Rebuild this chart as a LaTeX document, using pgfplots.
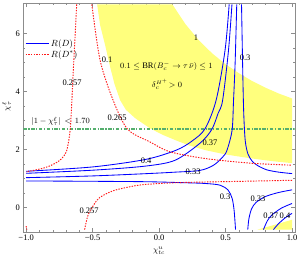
\documentclass[border=0pt]{standalone}
\usepackage{fontspec}
\setmainfont{Liberation Serif}
\usepackage{pgfplots}
\pgfplotsset{compat=1.18}
\usetikzlibrary{calc}
\pgfplotsset{
 bl/.style={color={rgb,255:red,0;green,0;blue,255}, line width=0.85bp, smooth, tension=0.5},
 rd/.style={color={rgb,255:red,255;green,25;blue,25}, line width=0.95bp, dash pattern=on 1.4bp off 1.3bp, smooth, tension=0.5},
}
\begin{document}
\begin{tikzpicture}
\begin{axis}[
 scale only axis, width=271.2bp, height=229.5bp,
 xmin=-1.02, xmax=1.02, ymin=-0.86, ymax=7.05,
 xtick={-1,-0.5,0,0.5,1}, xticklabels={−1.0,−0.5,0.0,0.5,1.0},
 ytick={0,2,4,6}, yticklabels={0,2,4,6},
 minor x tick num=4, minor y tick num=3,
 tick align=inside, tick pos=both,
 major tick length=4bp, minor tick length=2bp,
 axis line style={color={rgb,255:red,140;green,140;blue,140}},
 every tick/.style={color={rgb,255:red,140;green,140;blue,140}, line width=0.4pt},
 tick label style={font=\fontsize{8.5}{10}\selectfont, black},
 xticklabel style={yshift=1.5bp},
 xlabel={$\chi^{u}_{tc}$}, ylabel={$\chi^{\ell}_{\tau}$},
 label style={font=\fontsize{8.5}{10}\selectfont},
 xlabel style={at={(axis description cs:0.5,-0.08)}, anchor=center},
 ylabel style={at={(axis description cs:-0.062,0.55)}, anchor=center},
 legend style={at={(axis description cs:0.005,0.85)}, anchor=north west, draw=none, fill=none,
   font=\fontsize{9}{10}\selectfont, inner sep=0pt, row sep=-1bp},
 legend cell align=left,
 legend image code/.code={\draw[#1] (0bp,0bp) -- (23bp,0bp);},
 clip=true,
]
% yellow allowed regions
\addplot[fill={rgb,255:red,255;green,255;blue,125}, draw=none, forget plot] coordinates {
 (-0.466,7.0) (0.1,7.0) (0.2,6.31) (0.3,5.76) (0.4,5.31) (0.5,4.94) (0.6,4.63) (0.7,4.36)
 (0.8,4.13) (0.9,3.93) (1.0,3.76) (1.0,1.53) (0.85,1.6) (0.684,1.70) (0.5,1.83) (0.346,1.98)
 (0.22,2.15) (0.135,2.30) (0.03,2.5) (-0.068,2.73) (-0.18,3.08) (-0.25,3.37) (-0.293,3.70)
 (-0.335,4.25) (-0.368,4.84) (-0.406,5.60) (-0.444,6.29) (-0.466,7.0)} -- cycle;
\addplot[fill={rgb,255:red,255;green,255;blue,125}, draw=none, forget plot] coordinates {
 (0.74,-0.76) (0.85,-0.62) (1.0,-0.42) (1.0,-0.76)} -- cycle;

% constraint line
\addplot[draw={rgb,255:red,85;green,175;blue,110}, line width=1.5bp, dash pattern=on 3.5bp off 1.5bp on 1.2bp off 1.5bp, forget plot] coordinates {(-1.02,2.70) (1.02,2.70)};

% legend
\addlegendimage{bl}
\addlegendentry{$R(D)$}
\addlegendimage{rd}
\addlegendentry{$R(D^{*})$}

% R(D) contours
\addplot[bl, forget plot] coordinates {
 (-1.0,1.25) (-0.5,1.40) (-0.1,1.66) (0.13,1.98) (0.25,2.3) (0.346,2.72) (0.429,3.70) (0.496,5.42) (0.527,7.0)};
\addplot[bl, forget plot] coordinates {
 (-1.0,1.18) (-0.49,1.29) (-0.1,1.43) (0.12,1.63) (0.308,2.22) (0.396,2.69) (0.444,3.25) (0.478,3.70) (0.522,5.42) (0.548,7.0)};
\addplot[bl, forget plot] coordinates {
 (-1.0,1.03) (-0.5,1.09) (-0.09,1.17) (0.12,1.22) (0.308,1.28) (0.41,1.46) (0.48,1.75) (0.511,1.98) (0.549,2.67) (0.56,3.70) (0.572,5.0) (0.584,7.0)};
\addplot[bl, forget plot] coordinates {
 (0.62,7.0) (0.63,4.5) (0.637,3.2) (0.648,2.3) (0.668,1.85) (0.70,1.6) (0.74,1.45) (0.81,1.30) (0.9,1.22) (1.0,1.17)};
\addplot[bl, forget plot] coordinates {
 (-1.0,0.917) (-0.5,0.905) (-0.092,0.89) (0.158,0.86) (0.346,0.83) (0.459,0.77) (0.519,0.60) (0.549,0.32) (0.564,-0.09) (0.575,-0.76)};
\addplot[bl, forget plot] coordinates {
 (0.667,-0.76) (0.675,-0.4) (0.695,-0.05) (0.73,0.18) (0.8,0.38) (0.9,0.52) (1.0,0.61)};
\addplot[bl, forget plot] coordinates {
 (0.785,-0.76) (0.815,-0.45) (0.85,-0.25) (0.92,-0.02) (1.0,0.14)};
\addplot[bl, forget plot] coordinates {
 (0.86,-0.76) (0.9,-0.55) (0.95,-0.35) (1.0,-0.2)};

% R(D*) contours
\addplot[rd, forget plot] coordinates {
 (-0.62,7.0) (-0.632,5.9) (-0.644,4.85) (-0.656,3.70) (-0.669,2.67) (-0.694,1.98) (-0.73,1.70) (-0.769,1.56) (-0.83,1.42) (-0.895,1.33) (-1.0,1.23)};
\addplot[rd, forget plot] coordinates {
 (-0.56,-0.76) (-0.553,-0.6) (-0.53,-0.21) (-0.468,0.25) (-0.421,0.42) (-0.331,0.60) (-0.193,0.74) (-0.092,0.80) (0.12,0.855) (0.346,0.88) (0.684,0.91) (1.0,0.94)};
\addplot[rd, forget plot] coordinates {
 (-1.0,-0.64) (-0.995,-0.76)};
\addplot[rd, forget plot] coordinates {
 (-0.506,7.0) (-0.444,5.08) (-0.346,3.70) (-0.237,2.70) (-0.068,2.26) (0.083,1.92) (0.346,1.69) (0.684,1.53) (1.0,1.46)};

% labels
\begin{scope}[every node/.style={font=\fontsize{8.5}{10}\selectfont, inner sep=0pt}]
\node at (axis cs:0.278,5.84) {1};
\node at (axis cs:0.647,5.16) {0.3};
\node at (axis cs:0.055,4.88) {$0.1\leq \mathrm{BR}(B_c^-\to\tau\,\bar\nu)\leq 1$};
\node at (axis cs:0.06,4.26) {$\delta_c^{\scriptscriptstyle H^+}\!>0$};
\node at (axis cs:-0.391,5.08) {0.1};
\node at (axis cs:-0.654,4.29) {0.257};
\node at (axis cs:-0.316,3.11) {0.265};
\node at (axis cs:-0.74,2.97) {$|1-\chi^{\ell}_{\tau}|\,<\,1.70$};
\node at (axis cs:-0.098,1.63) {0.4};
\node at (axis cs:0.383,2.25) {0.37};
\node at (axis cs:0.256,1.25) {0.33};
\node at (axis cs:0.496,0.36) {0.3};
\node at (axis cs:0.744,0.29) {0.33};
\node at (axis cs:0.84,-0.27) {0.37};
\node at (axis cs:0.947,-0.27) {0.4};
\node at (axis cs:-0.526,-0.12) {0.257};
\end{scope}
\coordinate (sw) at (rel axis cs:0,0);
\coordinate (ne) at (rel axis cs:1,1);
\end{axis}
\pgfresetboundingbox
\path ($(sw)+(-23.5bp,-26.5bp)$) rectangle ($(ne)+(2.3bp,3bp)$);
\end{tikzpicture}
\end{document}
